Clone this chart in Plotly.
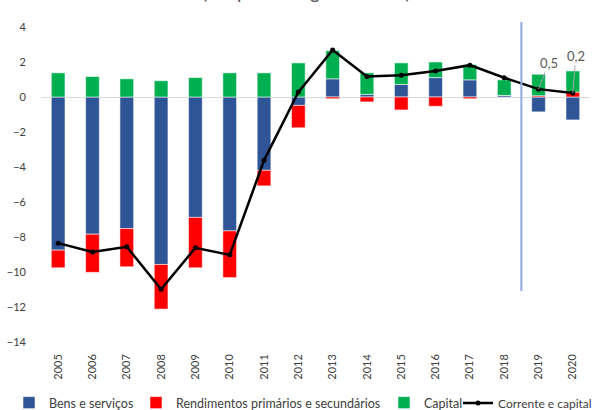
import plotly.graph_objects as go

years = ["2005", "2006", "2007", "2008", "2009", "2010", "2011", "2012",
         "2013", "2014", "2015", "2016", "2017", "2018", "2019", "2020"]
bens = [-8.75, -7.84, -7.52, -9.57, -6.88, -7.65, -4.19, -0.48,
        1.04, 0.15, 0.72, 1.11, 0.98, 0.09, -0.85, -1.31]
rend = [-1.01, -2.18, -2.18, -2.55, -2.88, -2.67, -0.89, -1.28,
        -0.10, -0.28, -0.74, -0.53, -0.10, 0.0, 0.07, 0.28]
capital = [1.38, 1.17, 1.04, 0.93, 1.11, 1.38, 1.38, 1.95,
           1.61, 1.23, 1.23, 0.89, 0.87, 0.89, 1.23, 1.21]
total = [-8.35, -8.86, -8.56, -10.99, -8.62, -9.02, -3.62, 0.28,
         2.69, 1.17, 1.25, 1.49, 1.82, 1.10, 0.45, 0.23]
label_years = ["2019", "2020"]
label_texts = ["0,5", "0,2"]
yticks = [4, 2, 0, -2, -4, -6, -8, -10, -12, -14]

FONT = "Lato"
W, H = 598, 410
ML, MR, MT, MB = 41, 8, 27, 68
pw = W - ML - MR
ph = H - MT - MB

fig = go.Figure()
edge = dict(color="rgba(255,255,255,0.55)", width=1)
fig.add_trace(go.Bar(x=years, y=bens, name="Bens e serviços", legend="legend",
                     marker=dict(color="#2F5597", line=edge)))
fig.add_trace(go.Bar(x=years, y=rend, name="Rendimentos primários e secundários",
                     legend="legend2",
                     marker=dict(color="#FF0000", line=edge)))
fig.add_trace(go.Bar(x=years, y=capital, name="Capital", legend="legend3",
                     marker=dict(color="#00B050", line=edge)))
fig.add_trace(go.Scatter(x=years, y=total, name="Corrente e capital",
                         legend="legend4",
                         mode="lines+markers",
                         line=dict(color="black", width=2.5),
                         marker=dict(color="black", size=5)))

offsets = [(10, -26), (3, -37)]
for yr, txt, (ax, ay) in zip(label_years, label_texts, offsets):
    i = years.index(yr)
    fig.add_annotation(x=i, y=total[i], text=txt, showarrow=True,
                       arrowhead=0, arrowwidth=1, arrowcolor="#A6A6A6",
                       ax=ax, ay=ay, axref="pixel", ayref="pixel", standoff=0,
                       font=dict(family=FONT, size=13, color="#595959"))

# separator line between 2018 and 2019
fig.add_shape(type="line", xref="x", yref="paper",
              x0=13.5, x1=13.5,
              y0=(H - MB - 291) / ph, y1=(H - MB - 22) / ph,
              line=dict(color="#8FAADC", width=2))

# partially visible title
fig.add_annotation(xref="paper", yref="paper", x=(306 - ML) / pw,
                   y=(H - MB - 5) / ph, yanchor="bottom", xanchor="center",
                   text="(em percentagem do PIB)", showarrow=False,
                   font=dict(family=FONT, size=19, color="#595959"))

ly = (H - MB - 403) / ph


def leg(px, size=12.5):
    return dict(orientation="h", x=(px - ML) / pw, xanchor="left",
                y=ly, yanchor="middle",
                font=dict(family=FONT, size=size, color="#404040"),
                itemwidth=30, bgcolor="rgba(0,0,0,0)")


fig.update_layout(
    width=W, height=H,
    margin=dict(l=ML, r=MR, t=MT, b=MB, autoexpand=False),
    barmode="relative", bargap=0.6,
    plot_bgcolor="white", paper_bgcolor="white",
    font=dict(family=FONT, size=11, color="#404040"),
    legend=leg(9), legend2=leg(136), legend3=leg(384),
    legend4=leg(458, 12),
    showlegend=True,
)
fig.update_xaxes(type="category", range=[-0.5, 15.5], autorange=False,
                 showgrid=False, showline=False, ticks="",
                 tickangle=-90,
                 tickfont=dict(family=FONT, size=11, color="#404040"),
                 ticklabelstandoff=9)
fig.update_yaxes(range=[-14, 4], tickvals=yticks, showgrid=False,
                 zeroline=True, zerolinecolor="#D9D9D9", zerolinewidth=1,
                 showline=False, ticks="",
                 tickfont=dict(family=FONT, size=11, color="#404040"),
                 ticklabelstandoff=14)

fig.write_html("out.html",
               config={"displayModeBar": False},
               post_script="document.body.style.margin='0';"
                           "document.body.style.overflow='hidden';")
